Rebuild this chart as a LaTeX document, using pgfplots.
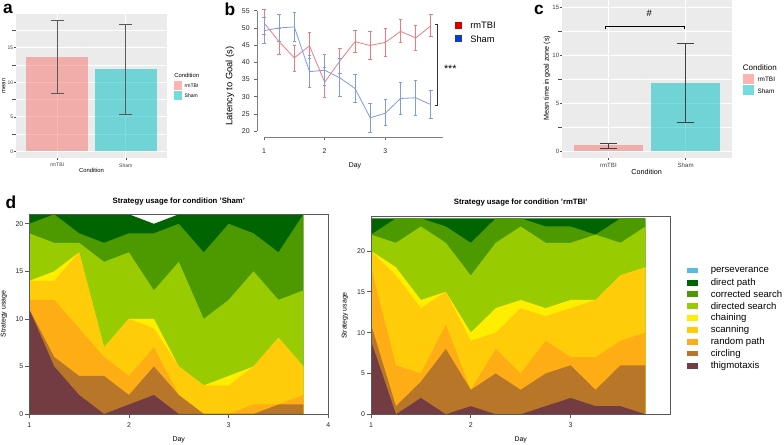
\documentclass[border=0pt]{standalone}
\usepackage{pgfplots}
\usepackage{pgfplotstable}
\usepackage{fontspec}
\setmainfont{Liberation Sans}
\pgfplotsset{compat=1.18}
\definecolor{cPers}{HTML}{5BBCE0}
\definecolor{cDirect}{HTML}{006400}
\definecolor{cCorr}{HTML}{4C9900}
\definecolor{cDirected}{HTML}{99CC00}
\definecolor{cChain}{HTML}{FFEE00}
\definecolor{cScan}{HTML}{FFCC0A}
\definecolor{cRand}{HTML}{FFAD14}
\definecolor{cCirc}{HTML}{B87728}
\definecolor{cThig}{HTML}{733C42}
\definecolor{ggbg}{HTML}{EBEBEB}
\definecolor{ggred}{HTML}{F8766D}
\definecolor{ggteal}{HTML}{00BFC4}
\definecolor{redl}{HTML}{EE7A7E}
\definecolor{bluel}{HTML}{7F9BE6}
\definecolor{legred}{HTML}{D40000}
\definecolor{legblue}{HTML}{0A3FC0}

% box given in reference pixels: left, top, right, bottom
\pgfplotsset{
  pxbox/.style n args={4}{
    scale only axis,
    anchor=south west,
    at={({#1*0.75pt},{(445-#4)*0.75pt})},
    width={(#3-#1)*0.75pt},
    height={(#4-#2)*0.75pt},
  },
  gg/.style={
    axis background/.style={fill=ggbg},
    axis line style={draw=none},
    major tick length=1.5pt,
    tick style={draw=black!70,line width=0.3pt},
    grid=both,
    major grid style={white,line width=0.6pt},
    minor grid style={white,line width=0.3pt},
    xtick={1,2},
    xticklabels={rmTBI,Sham},
    xmin=0.4,xmax=2.6,
    ticklabel style={text=black!75},
    yticklabel style={xshift=3pt},
    xticklabel style={yshift=1pt},
    tick align=outside,
    tick pos=left,
    /pgf/number format/assume math mode=true,
  },
  strat/.style={
    xmin=1,xmax=4,
    xtick={1,2,3,4},
    axis line style={draw=black!65,line width=0.6pt},
    tick style={draw=black!65,line width=0.5pt},
    tick align=outside,
    major tick length=3pt,
    tick pos=left,
    ticklabel style={font=\fontsize{5.2}{6}\selectfont,text=black!85},
    yticklabel style={xshift=2pt},
    /pgf/number format/assume math mode=true,
    xlabel={Day},
    ylabel={Strategy usage},
    label style={font=\fontsize{5.2}{6}\selectfont},
    axis on top,
    clip=true,
    title style={font=\bfseries\fontsize{5.8}{7}\selectfont},
  },
  stratlayer/.style={fill=#1,draw=none,mark=none,forget plot},
}

\pgfplotstableread{
day thig circ rand scan chain directed corr direct
1    11 11 12 14 14 19 20 21
1.25  5  6 12 14 15 18 21 21
1.5   2  4  9 17 17 18 19 21
1.75  0  4  6  7  7 16 18 21
2     1  2  4 10 10 17 19 21
2.25  2  5  7  9 10 13 19 20
2.5   0  2  2  5  5 16 20 21
2.75  0  0  0  3  3 10 17 21
3     0  0  0  3  4 12 20 21
3.25  0  0  1  5  5 15 19 21
3.5   0  1  1  8  8 12 17 21
3.75  0  1  2  5  5 13 21 21
}\shamtable

\pgfplotstableread{
day thig circ rand scan chain directed corr direct
1    9 11 18 20 20 22 22 24
1.25 0  1  6 17 18 21 24 24
1.5  2  4  5 13 14 23 24 24
1.75 0  8 11 15 15 21 23 24
2    1  3  3  9 10 17 21 24
2.25 0  5  8 10 13 21 24 24
2.5  0  3  5 13 14 23 24 24
2.75 1  5  9 12 13 21 23 24
3    2  6  7 13 14 21 23 24
3.25 1  3  7 14 14 22 22 24
3.5  1  6  9 17 17 21 24 24
3.75 0  6 10 18 18 23 24 24
}\rmtable

\pgfplotstableread{
day mean up low
1    51.5 55.3 48.0
1.25 46.0 50.0 42.3
1.5  41.3 44.9 37.5
1.75 44.8 48.6 41.1
2    34.2 38.4 29.8
2.25 40.4 44.0 36.8
2.5  46.0 49.3 42.8
2.75 44.9 49.0 40.9
3    45.8 49.9 41.7
3.25 49.0 52.5 45.7
3.5  47.1 50.7 43.4
3.75 50.6 53.9 47.5
}\latrm

\pgfplotstableread{
day mean up low
1    49.2 53.0 45.5
1.25 50.0 53.9 46.0
1.5  50.3 54.5 46.0
1.75 37.3 42.0 32.6
2    37.7 42.2 33.2
2.25 35.5 41.1 30.1
2.5  32.4 36.4 28.4
2.75 23.9 28.1 19.5
3    25.2 29.2 21.7
3.25 29.5 34.1 25.0
3.5  29.7 34.8 24.6
3.75 27.7 31.8 23.6
}\latsham

\newcommand{\stacklayers}[1]{%
  \addplot[stratlayer=cDirect] table[x=day,y=direct]{#1} \closedcycle;
  \addplot[stratlayer=cCorr] table[x=day,y=corr]{#1} \closedcycle;
  \addplot[stratlayer=cDirected] table[x=day,y=directed]{#1} \closedcycle;
  \addplot[stratlayer=cChain] table[x=day,y=chain]{#1} \closedcycle;
  \addplot[stratlayer=cScan] table[x=day,y=scan]{#1} \closedcycle;
  \addplot[stratlayer=cRand] table[x=day,y=rand]{#1} \closedcycle;
  \addplot[stratlayer=cCirc] table[x=day,y=circ]{#1} \closedcycle;
  \addplot[stratlayer=cThig] table[x=day,y=thig]{#1} \closedcycle;
}

\begin{document}
\begin{tikzpicture}
\path[use as bounding box] (0,0) rectangle (588pt,333.75pt);

% ---------- panel a
\begin{axis}[pxbox={16}{14}{167}{158},gg,
  ymin=-0.95,ymax=19.87,
  ytick={0,5,10,15},
  minor ytick={2.5,7.5,12.5,17.5},
  ticklabel style={font=\fontsize{3.8}{4}\selectfont},
  xlabel={Condition},ylabel={mean},
  label style={font=\fontsize{4.4}{5}\selectfont},
  xlabel style={at={(axis description cs:0.5,-0.083)},anchor=center},
  ylabel style={at={(axis description cs:-0.08,0.5)},anchor=center},
  ybar,bar width=46.4pt,bar shift=0pt,
]
\addplot[draw=none,fill=ggred,fill opacity=0.52] coordinates {(1,13.7)};
\addplot[draw=none,fill=ggteal,fill opacity=0.52] coordinates {(2,11.9)};
\addplot[draw=none,mark=none,fill=none,
  error bars/.cd,y dir=both,y explicit,
  error bar style={black!65,line width=0.6pt},
  error mark options={rotate=90,mark size=5pt,black!65,line width=0.5pt}]
  coordinates {(1,13.65) +- (0,5.25) (2,11.85) +- (0,6.55)};
\end{axis}
% legend a
\node[anchor=west,inner sep=0pt,font=\fontsize{4.4}{5}\selectfont] at (130.5pt,277pt) {Condition};
\fill[ggred,fill opacity=0.55] (130.5pt,266.25pt) rectangle (136.5pt,273pt);
\fill[ggteal,fill opacity=0.55] (130.5pt,258.75pt) rectangle (136.5pt,265.5pt);
\node[anchor=west,inner sep=0pt,font=\fontsize{3.8}{4}\selectfont] at (138.3pt,269.25pt) {rmTBI};
\node[anchor=west,inner sep=0pt,font=\fontsize{3.8}{4}\selectfont] at (138.3pt,261.75pt) {Sham};

% ---------- panel b
\begin{axis}[pxbox={257}{9}{443}{137.7},
  xmin=0.885,xmax=3.95,ymin=18.1,ymax=55.5,
  clip=false,
  axis line style={draw=none},
  xtick={1,2,3},ytick={20,25,30,35,40,45,50,55},
  tick pos=left,tick align=outside,
  major tick length=2pt,
  tick style={draw=black!60,line width=0.4pt},
  ticklabel style={font=\fontsize{5.2}{6}\selectfont,text=black!85},
  xticklabel style={yshift=-3pt},
  /pgf/number format/assume math mode=true,
  xlabel={Day},ylabel={Latency to Goal (s)},
  xlabel style={font=\fontsize{5.2}{6}\selectfont,at={(axis description cs:0.527,-0.22)},anchor=center},
  ylabel style={font=\fontsize{7}{8}\selectfont,at={(axis description cs:-0.145,0.40)},anchor=center},
]
\draw[black!50,line width=0.8pt] (axis cs:1,18.1) -- (axis cs:3.95,18.1);
\draw[black!50,line width=0.6pt] (axis cs:0.885,20) -- (axis cs:0.885,55);
\addplot[redl,line width=0.6pt,mark=none,
  error bars/.cd,y dir=both,y explicit,
  error bar style={redl,line width=0.6pt},
  error mark options={rotate=90,mark size=1.3pt,redl,line width=0.6pt}]
  table[x=day,y=mean,y error plus expr=\thisrow{up}-\thisrow{mean},y error minus expr=\thisrow{mean}-\thisrow{low}]{\latrm};
\addplot[bluel,line width=0.6pt,mark=none,
  error bars/.cd,y dir=both,y explicit,
  error bar style={bluel,line width=0.6pt},
  error mark options={rotate=90,mark size=1.3pt,bluel,line width=0.6pt}]
  table[x=day,y=mean,y error plus expr=\thisrow{up}-\thisrow{mean},y error minus expr=\thisrow{mean}-\thisrow{low}]{\latsham};
\draw[black!80,line width=0.5pt] (axis cs:3.82,51.1) -- (axis cs:3.863,51.1) -- (axis cs:3.863,27.5) -- (axis cs:3.82,27.5);
\node[font=\fontsize{8}{9}\selectfont] at (axis cs:4.07,38) {***};
\end{axis}
\fill[legred] (341.5pt,312pt) rectangle (346.5pt,317.25pt);
\fill[legblue] (341.5pt,302.25pt) rectangle (346.5pt,307.25pt);
\node[anchor=west,inner sep=0pt,font=\fontsize{7}{8}\selectfont] at (352.5pt,314.6pt) {rmTBI};
\node[anchor=west,inner sep=0pt,font=\fontsize{7}{8}\selectfont] at (352.5pt,304.6pt) {Sham};

% ---------- panel c
\begin{axis}[pxbox={562}{0}{732}{158},gg,
  ymin=-0.7,ymax=15.8,
  ytick={0,5,10,15},
  minor ytick={2.5,7.5,12.5},
  ticklabel style={font=\fontsize{4.6}{5}\selectfont},
  xlabel={Condition},ylabel={Mean time in goal zone (s)},
  label style={font=\fontsize{5.4}{6}\selectfont},
  xlabel style={at={(axis description cs:0.498,-0.089)},anchor=center},
  ylabel style={at={(axis description cs:-0.088,0.506)},anchor=center},
  ybar,bar width=52pt,bar shift=0pt,clip=false,
]
\addplot[draw=none,fill=ggred,fill opacity=0.52] coordinates {(1,0.63)};
\addplot[draw=none,fill=ggteal,fill opacity=0.52] coordinates {(2,7.14)};
\addplot[draw=none,mark=none,fill=none,
  error bars/.cd,y dir=both,y explicit,
  error bar style={black!75,line width=0.5pt},
  error mark options={rotate=90,mark size=6.5pt,black!75,line width=0.5pt}]
  coordinates {(1,0.575) +- (0,0.265) (2,7.165) +- (0,4.135)};
\draw[black,line width=0.6pt] (axis cs:0.96,12.75) -- (axis cs:0.96,13.07) -- (axis cs:1.99,13.07) -- (axis cs:1.99,12.75);
\node[font=\fontsize{7}{8}\selectfont] at (axis cs:1.53,14.4) {\#};
\end{axis}
\node[anchor=west,inner sep=0pt,font=\fontsize{6}{7}\selectfont] at (557pt,283pt) {Condition};
\fill[ggred,fill opacity=0.55] (557pt,270.5pt) rectangle (565.5pt,278pt);
\fill[ggteal,fill opacity=0.55] (557pt,262.5pt) rectangle (565.5pt,270pt);
\node[anchor=west,inner sep=0pt,font=\fontsize{4.8}{5}\selectfont] at (568pt,274pt) {rmTBI};
\node[anchor=west,inner sep=0pt,font=\fontsize{4.8}{5}\selectfont] at (568pt,265.7pt) {Sham};

% ---------- panel d
\begin{axis}[pxbox={29.3}{214.3}{328.3}{414},strat,
  ymin=0,ymax=21,ytick={0,5,10,15,20},
  title={Strategy usage for condition 'Sham'},
  title style={yshift=-2.75pt},
  xlabel style={at={(axis description cs:0.5,-0.13)},anchor=center},
  ylabel style={at={(axis description cs:-0.085,0.5)},anchor=center},
]
\stacklayers{\shamtable}
\end{axis}
\begin{axis}[pxbox={371}{216.7}{670.4}{414.3},strat,
  ymin=0,ymax=24.2,ytick={0,5,10,15,20},
  title={Strategy usage for condition 'rmTBI'},
  title style={yshift=-1.25pt},
  xlabel style={at={(axis description cs:0.5,-0.13)},anchor=center},
  ylabel style={at={(axis description cs:-0.087,0.5)},anchor=center},
  xtick={1,2,3},
]
\stacklayers{\rmtable}
\end{axis}

% legend d
\foreach \c/\t/\y in {cPers/perseverance/270.7,cDirect/direct path/283,cCorr/corrected search/294.3,cDirected/directed search/306.3,cChain/chaining/318.3,cScan/scanning/330.3,cRand/random path/342,cCirc/circling/353.7,cThig/thigmotaxis/366}{
  \fill[\c] ({687*0.75pt},{(445-\y-2.8)*0.75pt}) rectangle ({697.5*0.75pt},{(445-\y+2.8)*0.75pt});
  \node[anchor=west,inner sep=0pt,font=\fontsize{7.2}{8}\selectfont] at ({710.5*0.75pt},{(445-\y)*0.75pt}) {\t};
}

% panel letters
\foreach \l/\x/\y in {a/8/9,b/230/9,c/539/10,d/11/202}{
  \node[font=\bfseries\fontsize{13}{14}\selectfont,inner sep=0pt] at ({\x*0.75pt},{(445-\y)*0.75pt}) {\l};
}
\end{tikzpicture}
\end{document}
